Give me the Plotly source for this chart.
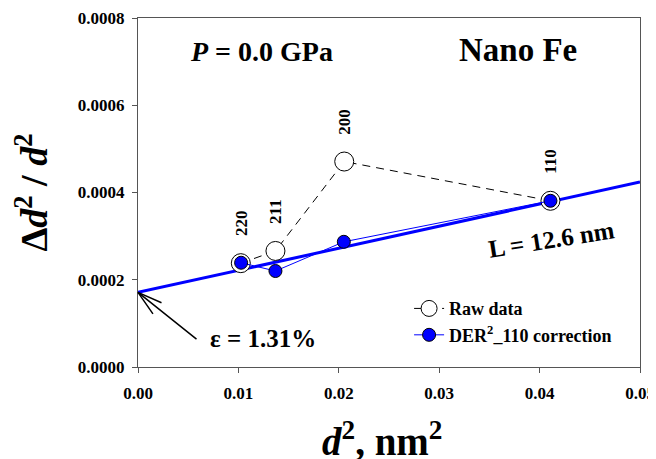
import plotly.graph_objects as go

# ---- data ----
hkl = ["220", "211", "200", "110"]
raw_x = [0.01024, 0.01369, 0.02054, 0.04108]
raw_y = [0.000238, 0.000266, 0.000471, 0.000381]
der_x = [0.01027, 0.01369, 0.02050, 0.04108]
der_y = [0.000239, 0.000220, 0.000287, 0.000381]
fit_x = [0.0, 0.05]
fit_y = [0.000171, 0.000424]
x_ticks = [0.00, 0.01, 0.02, 0.03, 0.04, 0.05]
y_ticks = [0.0000, 0.0002, 0.0004, 0.0006, 0.0008]

FONT = "Liberation Serif, Times New Roman, serif"

fig = go.Figure()

fig.add_trace(go.Scatter(
    x=fit_x, y=fit_y, mode="lines",
    line=dict(color="#0000ff", width=3), showlegend=False, hoverinfo="skip"))

fig.add_trace(go.Scatter(
    x=raw_x, y=raw_y, mode="lines+markers", name="<b>Raw data</b>",
    line=dict(color="black", width=1, dash="8px,6px"),
    marker=dict(symbol="circle", size=19, color="white",
                line=dict(color="black", width=1))))

fig.add_trace(go.Scatter(
    x=der_x, y=der_y, mode="lines+markers",
    name="<b>DER<sup>2</sup>_110 correction</b>",
    line=dict(color="#0000ff", width=1),
    marker=dict(symbol="circle", size=13, color="#0000ff",
                line=dict(color="black", width=1))))

# hkl labels above raw points
for lab, xv, yv in zip(hkl, raw_x, raw_y):
    fig.add_annotation(x=xv, y=yv, text=f"<b>{lab}</b>", showarrow=False,
                       textangle=-90, yanchor="bottom", xanchor="center",
                       yshift=25, font=dict(family=FONT, size=17, color="black"))

# text annotations
fig.add_annotation(xref="x domain", yref="y domain", x=0.0997, y=0.903,
                   xanchor="left", yanchor="middle", showarrow=False,
                   text="<b><i>P</i> = 0.0 GPa</b>",
                   font=dict(family=FONT, size=28, color="black"))
fig.add_annotation(xref="x domain", yref="y domain", x=0.636, y=0.908,
                   xanchor="left", yanchor="middle", showarrow=False,
                   text="<b>Nano Fe</b>",
                   font=dict(family=FONT, size=33, color="black"))
fig.add_annotation(xref="x domain", yref="y domain", x=0.8235, y=0.364,
                   xanchor="center", yanchor="middle", showarrow=False,
                   text="<b>L = 12.6 nm</b>", textangle=-9,
                   font=dict(family=FONT, size=25, color="black"))
fig.add_annotation(xref="x domain", yref="y domain", x=0.1396, y=0.083,
                   xanchor="left", yanchor="middle", showarrow=False,
                   text="<b>ε = 1.31%</b>",
                   font=dict(family=FONT, size=25, color="black"))

# axis titles as annotations for exact placement
fig.add_annotation(xref="paper", yref="paper", x=-0.2131, y=0.5,
                   xanchor="center", yanchor="middle", showarrow=False,
                   textangle=-90,
                   text="<b>Δ<i>d</i><sup>2</sup> / <i>d</i><sup>2</sup></b>",
                   font=dict(family=FONT, size=38, color="black"))
fig.add_annotation(xref="paper", yref="paper", x=0.488, y=-0.207,
                   xanchor="center", yanchor="middle", showarrow=False,
                   text="<b><i>d</i><sup>2</sup>, nm<sup>2</sup></b>",
                   font=dict(family=FONT, size=39, color="black"))

# arrow to intercept (shaft + two head strokes)
for axp, ayp in [(60, 48), (25, 11), (16, 23)]:
    fig.add_annotation(x=fit_x[0], y=fit_y[0], text="", showarrow=True,
                       arrowhead=0, arrowwidth=1.5, arrowcolor="black",
                       ax=axp, ay=ayp, standoff=0, startstandoff=0)

axis_common = dict(
    showline=True, linecolor="#555555", linewidth=1, mirror=True,
    ticks="outside", ticklen=5, tickcolor="#555555", showgrid=False,
    zeroline=False, automargin=False,
    tickfont=dict(family=FONT, size=17, color="black"),
)

fig.update_xaxes(range=[0, 0.05], tickvals=x_ticks,
                 ticktext=[f"<b>{v:.2f}</b>" for v in x_ticks],
                 ticklabelstandoff=6, **axis_common)
fig.update_yaxes(range=[0, 0.0008], tickvals=y_ticks,
                 ticktext=[f"<b>{v:.4f}</b>" for v in y_ticks],
                 ticklabelstandoff=4, **axis_common)

fig.update_layout(
    width=656, height=459,
    margin=dict(l=130, r=24, t=10, b=100),
    paper_bgcolor="white", plot_bgcolor="white",
    legend=dict(x=0.540, y=0.22, xanchor="left", yanchor="top",
                bgcolor="rgba(0,0,0,0)", borderwidth=0,
                font=dict(family=FONT, size=18, color="black")),
)

fig.write_html("out.html")
